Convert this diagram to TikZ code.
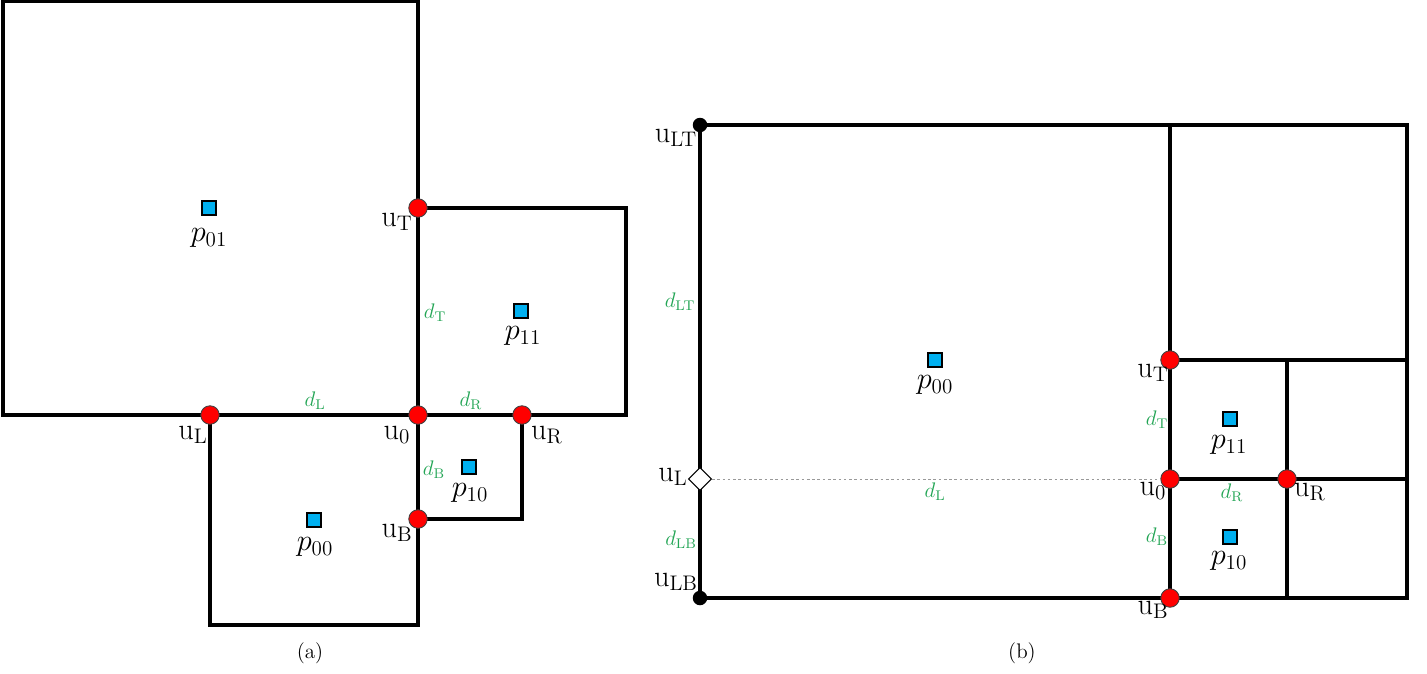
\documentclass[tikz,border=0pt]{standalone}
\usepackage{amsmath,amssymb}
\usetikzlibrary{shapes.geometric}
\definecolor{pblue}{RGB}{0,176,240}
\definecolor{dgreen}{RGB}{35,165,85}
\begin{document}
\begin{tikzpicture}[
    x=0.02cm,y=-0.02cm,
    wall/.style={line width=2.1pt,black,line join=miter},
    corner/.style={circle,fill=red,draw=black!75,line width=.5pt,minimum size=3.7mm,inner sep=0pt},
    enddot/.style={circle,fill=black,minimum size=2.9mm,inner sep=0pt},
    mid/.style={diamond,aspect=1,fill=white,draw=black,line width=.6pt,minimum size=4.6mm,inner sep=0pt},
    pt/.style={rectangle,fill=pblue,draw=black,line width=.7pt,minimum size=2.8mm,inner sep=0pt},
    lab/.style={font=\LARGE,inner sep=0pt},
    dl/.style={font=\large,text=dgreen,inner sep=0pt},
    subcap/.style={font=\large,inner sep=0pt},
    gap/.style={dash pattern=on 1.5pt off 1.5pt,gray!80,line width=.5pt}
  ]
    \useasboundingbox (0,0) rectangle (1427,673);
    % (a)
    \draw[wall] (3,1) rectangle (418,415);
    \draw[wall] (418,208) rectangle (626,415);
    \draw[wall] (210,415) rectangle (418,625);
    \draw[wall] (418,415) rectangle (522,519);
    \foreach \n/\x/\y in {aT/418/208,aL/210/415,a0/418/415,aR/522/415,aB/418/519} {\node[corner] (\n) at (\x,\y) {};}
    \foreach \n/\x/\y in {ap01/209/208,ap11/521/311,ap10/469/467,ap00/314/520} {\node[pt] (\n) at (\x,\y) {};}
    \node[lab] (ap01l) at (209,238) {$p_{01}$}; \node[lab] (ap11l) at (523,336) {$p_{11}$};
    \node[lab] (ap10l) at (470,493) {$p_{10}$}; \node[lab] (ap00l) at (315,547) {$p_{00}$};
    \node[lab] (aTl) at (397,222) {$\mathrm{u}_{\mathrm{T}}$}; \node[lab] (aLl) at (193,435) {$\mathrm{u}_{\mathrm{L}}$};
    \node[lab] (a0l) at (397,435) {$\mathrm{u}_{0}$}; \node[lab] (aRl) at (547,435) {$\mathrm{u}_{\mathrm{R}}$};
    \node[lab] (aBl) at (397,533) {$\mathrm{u}_{\mathrm{B}}$};
    \node[dl] (adT) at (435,313) {$d_{\mathrm{T}}$}; \node[dl] (adL) at (315,401) {$d_{\mathrm{L}}$};
    \node[dl] (adR) at (471,401) {$d_{\mathrm{R}}$}; \node[dl] (adB) at (434,470) {$d_{\mathrm{B}}$};
    \node[subcap] (capa) at (310,653) {(a)};
    % (b)
    \draw[wall] (700,125) rectangle (1407,598);
    \draw[wall] (1170,125) -- (1170,598);
    \draw[wall] (1170,360) -- (1407,360);
    \draw[wall] (1287,360) -- (1287,598);
    \draw[wall] (1170,479) -- (1407,479);
    \node[enddot] (bLT) at (700,125) {}; \node[enddot] (bLB) at (700,598) {};
    \node[mid] (bL) at (700,479) {};
    \foreach \n/\x/\y in {bT/1170/360,b0/1170/479,bR/1287/479,bB/1170/598} {\node[corner] (\n) at (\x,\y) {};}
    \draw[gap] (bL) -- (b0);
    \foreach \n/\x/\y in {bp00/935/360,bp11/1230/419,bp10/1230/537} {\node[pt] (\n) at (\x,\y) {};}
    \node[lab] (bp00l) at (935,385) {$p_{00}$}; \node[lab] (bp11l) at (1229,445) {$p_{11}$};
    \node[lab] (bp10l) at (1229,561) {$p_{10}$};
    \node[lab] (bLTl) at (676,138) {$\mathrm{u}_{\mathrm{LT}}$}; \node[lab] (bLBl) at (676,582) {$\mathrm{u}_{\mathrm{LB}}$};
    \node[lab] (bLl) at (673,477) {$\mathrm{u}_{\mathrm{L}}$}; \node[lab] (bTl) at (1153,373) {$\mathrm{u}_{\mathrm{T}}$};
    \node[lab] (b0l) at (1153,491) {$\mathrm{u}_{0}$}; \node[lab] (bRl) at (1310,492) {$\mathrm{u}_{\mathrm{R}}$};
    \node[lab] (bBl) at (1153,610) {$\mathrm{u}_{\mathrm{B}}$};
    \node[dl] (bdLT) at (680,302) {$d_{\mathrm{LT}}$}; \node[dl] (bdLB) at (681,540) {$d_{\mathrm{LB}}$};
    \node[dl] (bdT) at (1157,420) {$d_{\mathrm{T}}$}; \node[dl] (bdL) at (935,492) {$d_{\mathrm{L}}$};
    \node[dl] (bdR) at (1232,493) {$d_{\mathrm{R}}$}; \node[dl] (bdB) at (1157,537) {$d_{\mathrm{B}}$};
    \node[subcap] (capb) at (1022,653) {(b)};
\end{tikzpicture}
\end{document}
